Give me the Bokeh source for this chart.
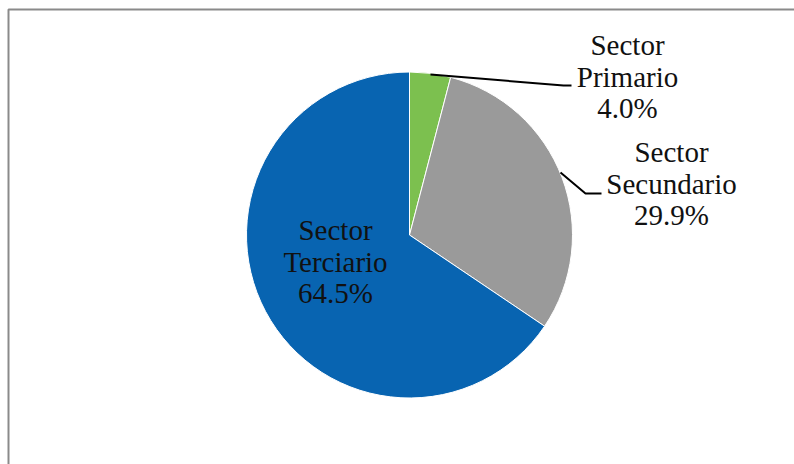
import math
from bokeh.plotting import figure
from bokeh.models import Range1d, ColumnDataSource, Label
from bokeh.embed import file_html
from bokeh.resources import INLINE

# ---- data ----
sectors = ["Primario", "Secundario", "Terciario"]
shares = [4.0, 29.9, 64.5]
colors = ["#7cc04f", "#9a9a9a", "#0864b1"]

W, H = 794, 464
# layout (pixel space, y measured from top)
cx, cy, r = 409, 234.5, 163
label_pos = [(627, 77), (671, 184), (335, 262)]  # centre of middle line
leaders = [[(430, 74), (563, 85), (571, 85)], [(560, 172), (585, 193), (601, 193)]]

p = figure(width=W, height=H, output_backend="svg", toolbar_location=None,
           x_range=Range1d(0, W), y_range=Range1d(0, H), min_border=0)
p.axis.visible = False
p.grid.visible = False
p.outline_line_color = None
p.background_fill_color = "white"

def Y(py):
    return H - py

# frame
p.quad(left=[8], right=[W + 10], top=[Y(9)], bottom=[-10], fill_color=None,
       line_color="#8a8a8a", line_width=2)

total = sum(shares)
starts, ends = [], []
cum = 0.0
for s in shares:
    starts.append(math.pi / 2 - 2 * math.pi * cum / total)
    cum += s
    ends.append(math.pi / 2 - 2 * math.pi * cum / total)

src = ColumnDataSource(dict(start=starts, end=ends, color=colors))
p.wedge(x=cx, y=Y(cy), radius=r, start_angle="start", end_angle="end",
        direction="clock", fill_color="color", line_color="white", line_width=1,
        source=src)

for pts in leaders:
    p.line([q[0] for q in pts], [Y(q[1]) for q in pts], line_color="black", line_width=2)

lh = 31.5
for name, s, (lx, ly) in zip(sectors, shares, label_pos):
    lines = ["Sector", name, f"{s:.1f}%"]
    for k, t in enumerate(lines):
        yy = ly + (k - 1) * lh + 15
        p.add_layout(Label(x=lx, y=Y(yy), text=t, text_font="Liberation Serif",
                           text_font_size="29px", text_align="center",
                           text_color="#111111"))

open("out.html", "w").write(file_html(p, INLINE))
